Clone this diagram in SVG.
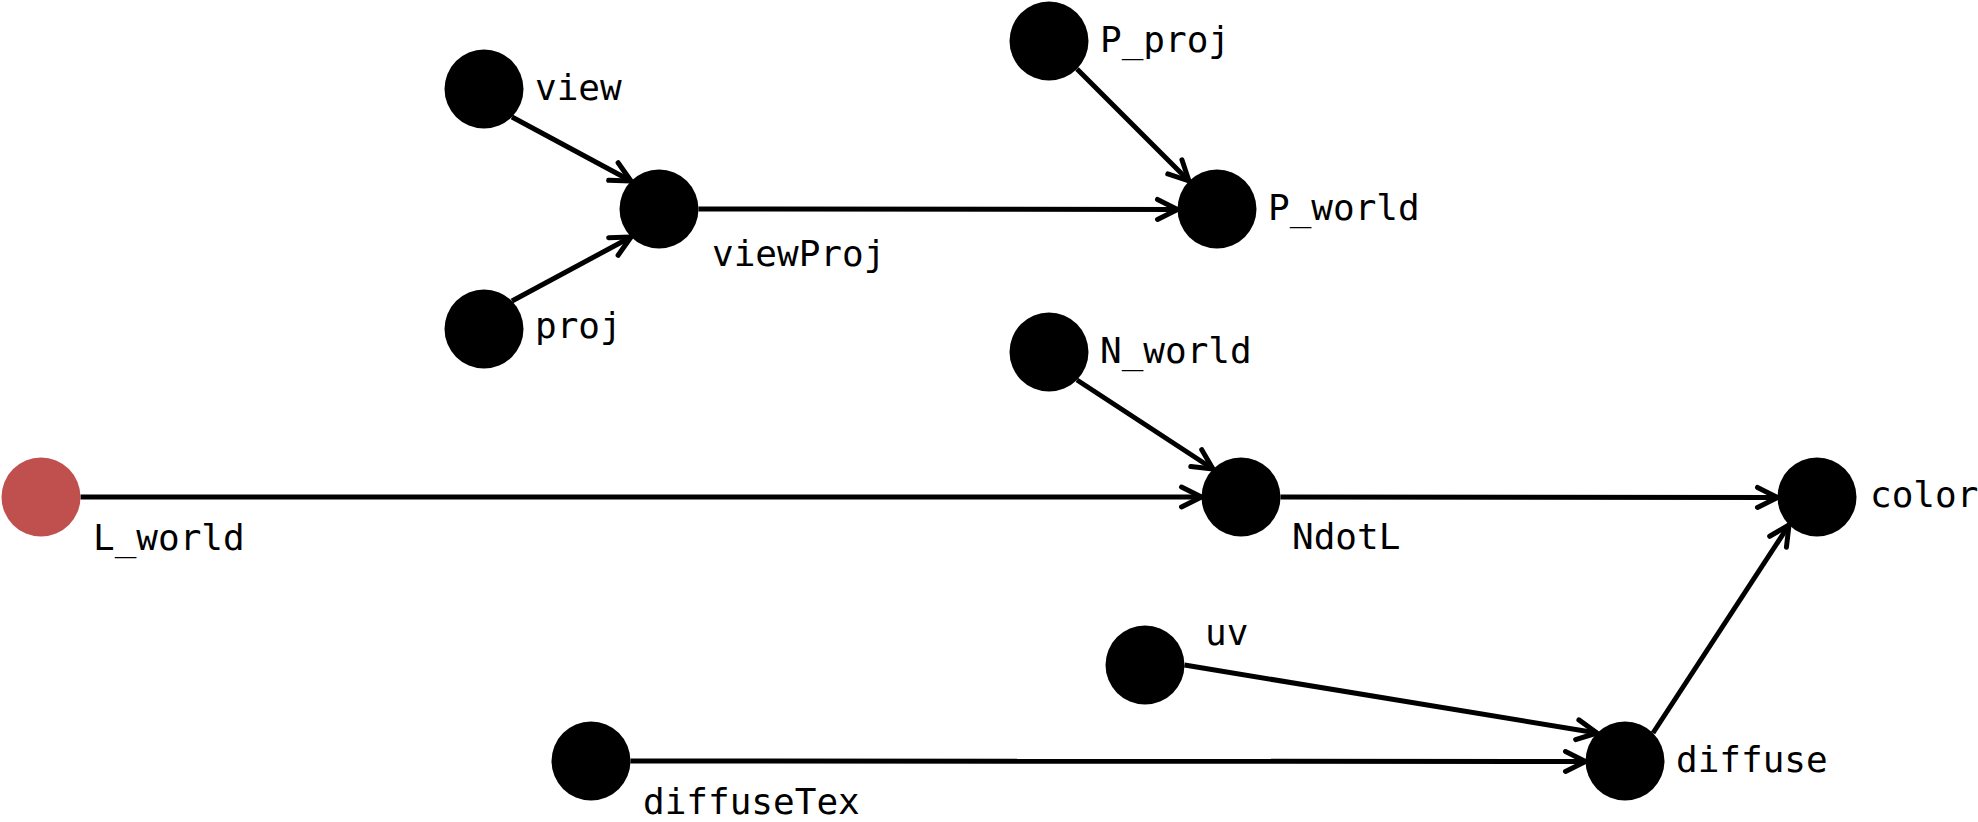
<svg xmlns="http://www.w3.org/2000/svg" width="1978" height="822" viewBox="0 0 1978 822">
  <style>
    .node { fill: #000000; }
    .node.light { fill: #C0504D; }
    .label { font-family: "DejaVu Sans Mono", "Liberation Mono", monospace; font-size: 36px; fill: #000000; }
    .edge { stroke: #000000; stroke-width: 5; fill: none; marker-end: url(#arrow); }
  </style>
  <defs>
    <marker id="arrow" markerUnits="userSpaceOnUse" viewBox="-26 -14 30 28" refX="0" refY="0" markerWidth="30" markerHeight="28" orient="auto" overflow="visible">
      <path d="M-20,-10 L0,0 L-20,10" fill="none" stroke="#000000" stroke-width="5" stroke-linecap="round" stroke-linejoin="round"/>
    </marker>
  </defs>
  <rect width="1978" height="822" fill="#ffffff"/>

  <!-- connectors between connection sites of the nodes -->
  <g id="edges">
    <line class="edge" x1="512" y1="117" x2="631" y2="181"/>
    <line class="edge" x1="512" y1="301" x2="631" y2="237"/>
    <line class="edge" x1="698.5" y1="209" x2="1177.5" y2="209.5"/>
    <line class="edge" x1="1077" y1="69" x2="1189" y2="181"/>
    <line class="edge" x1="1077" y1="380" x2="1213" y2="469"/>
    <line class="edge" x1="80.5" y1="497" x2="1201.5" y2="497"/>
    <line class="edge" x1="1280.5" y1="497" x2="1777.5" y2="497.5"/>
    <line class="edge" x1="1184.5" y1="665" x2="1597" y2="733"/>
    <line class="edge" x1="630.5" y1="761" x2="1585.5" y2="761.5"/>
    <line class="edge" x1="1653" y1="733" x2="1789" y2="525"/>
  </g>

  <g id="view">
    <circle class="node" cx="484" cy="89" r="39.5"/>
    <text class="label" x="535" y="100">view</text>
  </g>
  <g id="proj">
    <circle class="node" cx="484" cy="329" r="39.5"/>
    <text class="label" x="535" y="338">proj</text>
  </g>
  <g id="viewProj">
    <circle class="node" cx="659" cy="209" r="39.5"/>
    <text class="label" x="712" y="266">viewProj</text>
  </g>
  <g id="P_proj">
    <circle class="node" cx="1049" cy="41" r="39.5"/>
    <text class="label" x="1100" y="52">P_proj</text>
  </g>
  <g id="P_world">
    <circle class="node" cx="1217" cy="209" r="39.5"/>
    <text class="label" x="1268" y="220">P_world</text>
  </g>
  <g id="N_world">
    <circle class="node" cx="1049" cy="352" r="39.5"/>
    <text class="label" x="1100" y="363">N_world</text>
  </g>
  <g id="L_world">
    <circle class="node light" cx="41" cy="497" r="39.5"/>
    <text class="label" x="93" y="550">L_world</text>
  </g>
  <g id="NdotL">
    <circle class="node" cx="1241" cy="497" r="39.5"/>
    <text class="label" x="1292" y="549">NdotL</text>
  </g>
  <g id="color">
    <circle class="node" cx="1817" cy="497" r="39.5"/>
    <text class="label" x="1870" y="507">color</text>
  </g>
  <g id="uv">
    <circle class="node" cx="1145" cy="665" r="39.5"/>
    <text class="label" x="1205" y="645">uv</text>
  </g>
  <g id="diffuseTex">
    <circle class="node" cx="591" cy="761" r="39.5"/>
    <text class="label" x="643" y="814">diffuseTex</text>
  </g>
  <g id="diffuse">
    <circle class="node" cx="1625" cy="761" r="39.5"/>
    <text class="label" x="1676" y="772">diffuse</text>
  </g>
</svg>
